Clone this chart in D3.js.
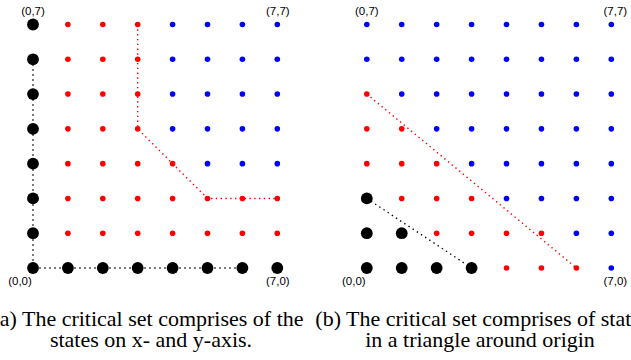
<!DOCTYPE html>
<html>
<head>
<meta charset="utf-8">
<script src="https://cdn.jsdelivr.net/npm/d3@7"></script>
<style>
  body { margin: 0; background: #fff; }
  .coord { font-family: "Liberation Sans", Arial, sans-serif; font-size: 11.5px; fill: #000; }
  .caption { font-family: "Liberation Serif", "Times New Roman", serif; font-size: 22px; fill: #000; }
</style>
</head>
<body>
<div id="chart"></div>
<script>
// Grid rows from y=7 (top) down to y=0; k = critical (black), r = red, b = blue
const rowsA = ["krrrbbbb", "krrrbbbb", "krrrbbbb", "krrrbbbb", "krrrrbbb", "krrrrrrr", "krrrrrrr", "kkkkkkkk"];
const rowsB = ["bbbbbbbb", "bbbbbbbb", "rbbbbbbb", "rrbbbbbb", "rrrbbbbb", "krrrbbbb", "kkrrrrbb", "kkkkrrrb"];

// dotted boundary paths, in state coordinates
const blackPathA = [[0, 6], [0, 0], [6, 0]];
const redPathA = [[3, 7], [3, 4], [5, 2], [7, 2]];
const blackPathB = [[0, 2], [3, 0]];
const redPathB = [[0, 5], [6, 0]];

const cornerLabels = ["(0,0)", "(7,0)", "(0,7)", "(7,7)"];

const captionA = ["(a) The critical set comprises of the", "states on x- and y-axis."];
const captionB = ["(b) The critical set comprises of states", "in a triangle around origin"];

const colors = { k: "#000", r: "#f00", b: "#00f" };

const svg = d3.select("#chart").append("svg")
    .attr("width", 631)
    .attr("height", 360);

const y = d3.scaleLinear().domain([0, 7]).range([268, 24.5]);

function drawPanel(rows, blackPath, redPath, x0, x7, labelShift) {
    const x = d3.scaleLinear().domain([0, 7]).range([x0, x7]);
    const g = svg.append("g");

    const line = d3.line().x(d => x(d[0])).y(d => y(d[1]));

    g.append("path")
        .attr("d", line(blackPath))
        .attr("fill", "none")
        .attr("stroke", "#000")
        .attr("stroke-width", 1.4)
        .attr("stroke-dasharray", "1.4,3.6");

    g.append("path")
        .attr("d", line(redPath))
        .attr("fill", "none")
        .attr("stroke", "#f00")
        .attr("stroke-width", 1.4)
        .attr("stroke-dasharray", "1.4,3.4");

    const pts = [];
    rows.forEach((row, i) => {
        row.split("").forEach((c, j) => pts.push({ i: j, j: 7 - i, c: c }));
    });

    g.selectAll("circle")
        .data(pts)
        .join("circle")
        .attr("cx", d => x(d.i))
        .attr("cy", d => y(d.j))
        .attr("r", d => d.c === "k" ? 5.9 : 2.8)
        .attr("fill", d => colors[d.c]);

    // corner labels
    const anchors = [[0, 0], [7, 0], [0, 7], [7, 7]];
    g.selectAll("text.coord")
        .data(cornerLabels)
        .join("text")
        .attr("class", "coord")
        .attr("text-anchor", "middle")
        .attr("x", (d, i) => x(anchors[i][0]) + (anchors[i][0] === 0 ? (anchors[i][1] === 0 ? -13 : 0) : labelShift))
        .attr("y", (d, i) => anchors[i][1] === 0 ? y(0) + 17 : y(7) - 10)
        .text(d => d);
}

drawPanel(rowsA, blackPathA, redPathA, 33, 277.3, 0.5);
drawPanel(rowsB, blackPathB, redPathB, 366.8, 611.3, 4);

function caption(lines, cx1, cx2) {
    svg.append("g").selectAll("text")
        .data(lines)
        .join("text")
        .attr("class", "caption")
        .attr("text-anchor", "middle")
        .attr("x", (d, i) => i === 0 ? cx1 : cx2)
        .attr("y", (d, i) => 326 + i * 21)
        .text(d => d);
}

caption(captionA, 148, 151);
caption(captionB, 482.5, 480);
</script>
</body>
</html>
